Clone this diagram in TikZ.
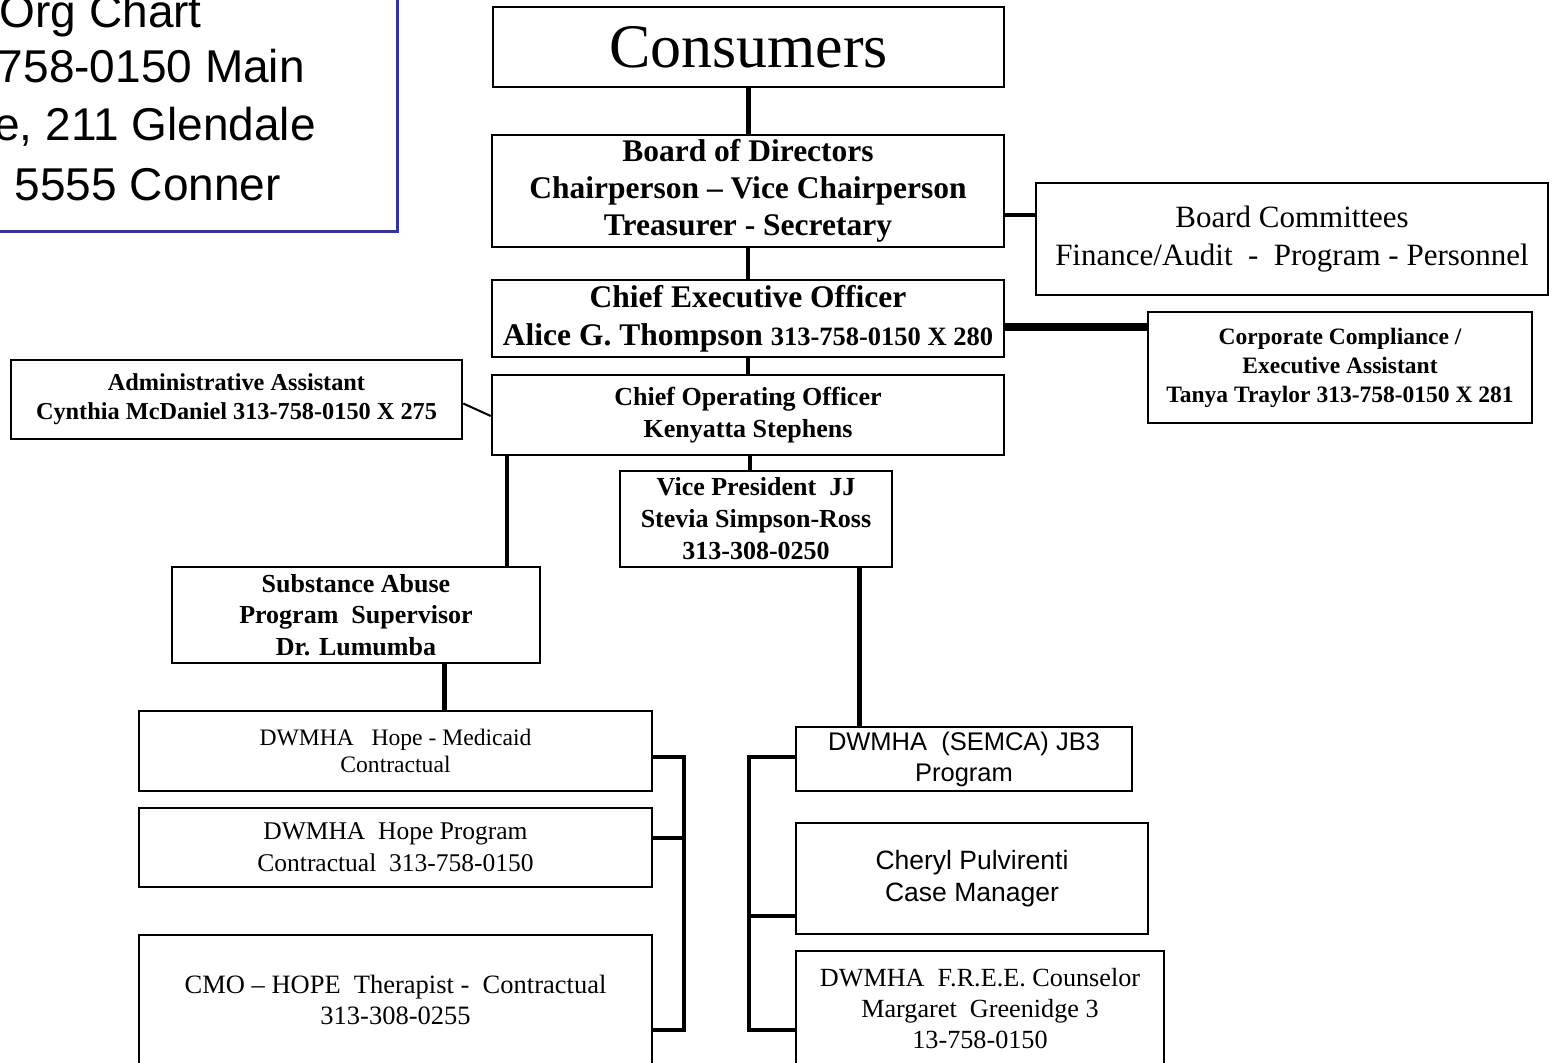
\documentclass[tikz,border=0pt]{standalone}
\usepackage{fontspec}
\setmainfont{Liberation Serif}
\newfontfamily\arial{Liberation Sans}
\usetikzlibrary{calc}
\definecolor{titleblue}{RGB}{51,51,153}
\newcommand\setfs[2]{\fontsize{#1}{#2}\selectfont}
\begin{document}
\begin{tikzpicture}[x=1pt,y=-1pt,
  box/.style={draw=black, line width=2.5pt, rectangle, inner sep=0pt, align=center, text=black},
  conn/.style={line width=4.5pt, line join=miter},
  thinconn/.style={line width=2pt},
  titletext/.style={anchor=base east, inner sep=0pt, font=\arial\setfs{46}{52}}]
\useasboundingbox (0,0) rectangle (1554,1062);
\clip (0,0) rectangle (1554,1062);
\fill[white] (0,0) rectangle (1554,1062);

% title box (partly outside the page)
\node[draw=titleblue, line width=3pt, minimum width=417pt, minimum height=251pt, inner sep=0pt] (title) at (188.5,105.5) {};
\node[titletext] (t1) at (202,28) {Org Chart};
\node[titletext] (t2) at (305,83) {758-0150 Main};
\node[titletext] (t3) at (316,140) {e, 211 Glendale};
\node[titletext] (t4) at (281,200) {5555 Conner};

% main chain
\node[box, minimum width=511pt, minimum height=80pt, font=\setfs{62}{70}] (cons) at (748.5,47) {Consumers};
\node[box, minimum width=512pt, minimum height=112pt, font=\bfseries\setfs{31.5}{37}] (board) at (748,191)
  {Board of Directors\\Chairperson \textendash{} Vice Chairperson\\Treasurer - Secretary};
\node[box, minimum width=512pt, minimum height=112pt, font=\setfs{31}{38}] (comm) at (1292,239)
  {Board Committees\\Finance/Audit \ - \ Program - Personnel};
\node[box, minimum width=512pt, minimum height=77pt, font=\bfseries\setfs{31.5}{38}] (ceo) at (748,318.5)
  {Chief Executive Officer\\Alice G. Thompson {\setfs{26.5}{38}313-758-0150 X 280}};
\node[box, minimum width=384pt, minimum height=111pt, font=\bfseries\setfs{23.5}{29}] (cc) at (1340,367.5)
  {Corporate Compliance /\\Executive Assistant\\Tanya Traylor 313-758-0150 X 281};
\node[box, minimum width=512pt, minimum height=80pt, font=\bfseries\setfs{26}{32}] (coo) at (748,415)
  {Chief Operating Officer\\Kenyatta Stephens};
\node[box, minimum width=451pt, minimum height=79pt, font=\bfseries\setfs{24.3}{29}] (admin) at (236.5,399.5)
  {Administrative Assistant\\Cynthia McDaniel 313-758-0150 X 275};
\node[box, minimum width=272pt, minimum height=96pt, font=\bfseries\setfs{26}{32}] (vp) at (756,519)
  {Vice President \ JJ\\Stevia Simpson-Ross\\313-308-0250};
\node[box, minimum width=368pt, minimum height=96pt, font=\bfseries\setfs{26}{31.5}] (sa) at (356,615)
  {Substance Abuse\\Program \ Supervisor\\Dr. Lumumba};

% left column
\node[box, minimum width=513pt, minimum height=80pt, font=\setfs{23.6}{27}] (med) at (395.5,751)
  {DWMHA \ \ Hope - Medicaid\\Contractual};
\node[box, minimum width=513pt, minimum height=79pt, font=\setfs{25.5}{32}] (hope) at (395.5,847.5)
  {DWMHA \ Hope Program\\Contractual \ 313-758-0150};
\node[box, minimum width=513pt, minimum height=130pt, font=\setfs{26.5}{31}] (cmo) at (395.5,1000)
  {CMO \textendash{} HOPE \ Therapist - \ Contractual\\313-308-0255};

% right column
\node[box, minimum width=336pt, minimum height=64pt, font=\arial\setfs{25.5}{31}] (semca) at (964,759)
  {DWMHA \ (SEMCA) JB3\\Program};
\node[box, minimum width=352pt, minimum height=111pt, font=\arial\setfs{26.5}{32}] (cheryl) at (972,878.5)
  {Cheryl Pulvirenti\\Case Manager};
\node[box, minimum width=368pt, minimum height=116pt, font=\setfs{26.2}{31}] (free) at (980,1009)
  {DWMHA \ F.R.E.E. Counselor\\Margaret \ Greenidge 3\\13-758-0150};

% connectors
\draw[conn] (cons.south) -- (cons.south |- board.north);
\draw[conn] (board.south) -- (board.south |- ceo.north);
\draw[line width=4pt] (ceo.south) -- (ceo.south |- coo.north);
\coordinate (bc) at ([yshift=-24pt]board.east);
\draw[conn] (bc) -- (bc -| comm.west);
\coordinate (cc0) at ([yshift=-8.5pt]ceo.east);
\draw[line width=8pt] (cc0) -- (cc0 -| cc.west);
\draw[thinconn] ([yshift=-4pt]admin.east) -- ([yshift=-1pt]coo.west);
\coordinate (cs) at ([xshift=16pt]coo.south west);
\draw[conn] (cs) -- (cs |- sa.north);
\coordinate (cv) at ([xshift=2pt]coo.south);
\draw[line width=4pt] (cv) -- (cv |- vp.north);
\coordinate (vs) at ([xshift=-34pt]vp.south east);
\draw[conn] (vs) -- (vs |- semca.north);
\coordinate (sm) at ([xshift=-97pt]sa.south east);
\draw[conn] (sm) -- (sm |- med.north);

% left bracket
\coordinate (lbt) at (684,757);
\coordinate (lbm) at (684,838);
\coordinate (lbb) at (684,1030);
\draw[conn] (med.east |- lbt) -- (lbt) -- (lbb) -- (cmo.east |- lbb);
\draw[conn] (hope.east |- lbm) -- (lbm);

% right bracket
\coordinate (rbt) at (749,757);
\coordinate (rbm) at (749,916);
\coordinate (rbb) at (749,1030);
\draw[conn] (semca.west |- rbt) -- (rbt) -- (rbb) -- (free.west |- rbb);
\draw[conn] (cheryl.west |- rbm) -- (rbm);
\end{tikzpicture}
\end{document}
